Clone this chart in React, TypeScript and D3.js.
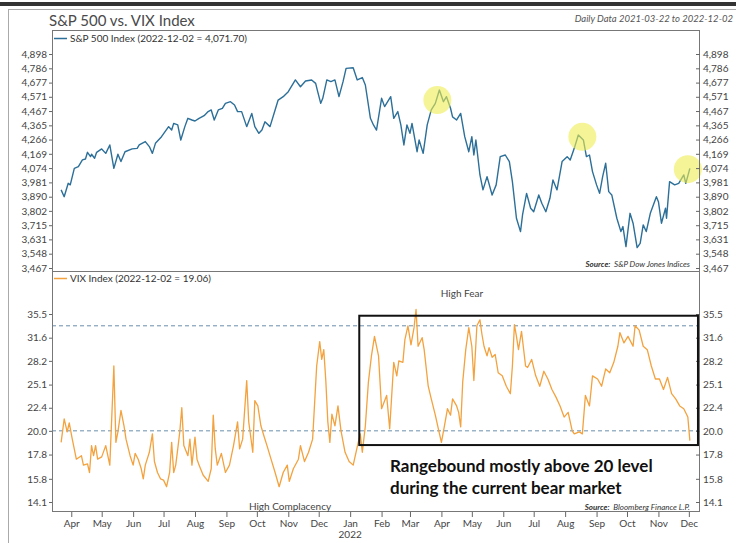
import { useEffect, useRef } from 'react'
import * as d3 from 'd3'

// S&P 500 daily closes
const spDates = [
  '2021-03-22', '2021-03-25', '2021-03-29', '2021-03-31', '2021-04-04', '2021-04-08', '2021-04-12', '2021-04-15',
  '2021-04-17', '2021-04-20', '2021-04-21', '2021-04-24', '2021-04-26', '2021-05-01', '2021-05-05', '2021-05-09',
  '2021-05-13', '2021-05-17', '2021-05-20', '2021-05-24', '2021-05-31', '2021-06-05', '2021-06-07', '2021-06-13',
  '2021-06-17', '2021-06-20', '2021-06-23', '2021-06-29', '2021-07-06', '2021-07-09', '2021-07-11', '2021-07-15',
  '2021-07-18', '2021-07-22', '2021-07-25', '2021-07-29', '2021-08-01', '2021-08-05', '2021-08-10', '2021-08-14',
  '2021-08-17', '2021-08-20', '2021-08-24', '2021-08-28', '2021-08-31', '2021-09-05', '2021-09-09', '2021-09-12',
  '2021-09-16', '2021-09-21', '2021-09-26', '2021-09-29', '2021-10-03', '2021-10-06', '2021-10-09', '2021-10-14',
  '2021-10-19', '2021-10-22', '2021-10-27', '2021-11-01', '2021-11-08', '2021-11-13', '2021-11-18', '2021-11-24',
  '2021-11-28', '2021-11-30', '2021-12-03', '2021-12-05', '2021-12-09', '2021-12-13', '2021-12-17', '2021-12-21',
  '2021-12-25', '2021-12-28', '2022-01-04', '2022-01-08', '2022-01-13', '2022-01-16', '2022-01-21', '2022-01-24',
  '2022-01-27', '2022-02-01', '2022-02-04', '2022-02-10', '2022-02-13', '2022-02-17', '2022-02-20', '2022-02-23',
  '2022-02-26', '2022-03-01', '2022-03-03', '2022-03-08', '2022-03-10', '2022-03-14', '2022-03-18', '2022-03-22',
  '2022-03-26', '2022-03-30', '2022-04-03', '2022-04-06', '2022-04-10', '2022-04-12', '2022-04-16', '2022-04-20',
  '2022-04-24', '2022-04-28', '2022-05-01', '2022-05-03', '2022-05-05', '2022-05-09', '2022-05-12', '2022-05-16',
  '2022-05-21', '2022-05-25', '2022-05-29', '2022-06-03', '2022-06-07', '2022-06-10', '2022-06-14', '2022-06-18',
  '2022-06-20', '2022-06-24', '2022-06-28', '2022-07-01', '2022-07-06', '2022-07-09', '2022-07-13', '2022-07-17',
  '2022-07-20', '2022-07-24', '2022-07-29', '2022-08-03', '2022-08-06', '2022-08-10', '2022-08-14', '2022-08-19',
  '2022-08-22', '2022-08-25', '2022-08-28', '2022-09-01', '2022-09-04', '2022-09-07', '2022-09-10', '2022-09-13',
  '2022-09-16', '2022-09-21', '2022-09-25', '2022-09-27', '2022-09-30', '2022-10-04', '2022-10-07', '2022-10-11',
  '2022-10-14', '2022-10-17', '2022-10-20', '2022-10-24', '2022-10-27', '2022-10-30', '2022-11-01', '2022-11-04',
  '2022-11-08', '2022-11-09', '2022-11-12', '2022-11-17', '2022-11-21', '2022-11-26', '2022-11-28', '2022-12-02',
]
const spValues = [
  3933, 3890, 3975, 3965, 4072, 4083, 4128, 4134,
  4179, 4150, 4166, 4139, 4179, 4202, 4172, 4229,
  4072, 4166, 4117, 4183, 4202, 4206, 4229, 4252,
  4218, 4172, 4240, 4286, 4356, 4332, 4379, 4368,
  4263, 4356, 4415, 4403, 4396, 4415, 4434, 4463,
  4475, 4403, 4475, 4487, 4523, 4535, 4511, 4463,
  4463, 4356, 4450, 4356, 4309, 4332, 4390, 4356,
  4475, 4547, 4572, 4609, 4697, 4646, 4689, 4697,
  4671, 4609, 4523, 4560, 4697, 4684, 4697, 4572,
  4684, 4786, 4790, 4697, 4715, 4659, 4415, 4368,
  4332, 4560, 4499, 4572, 4415, 4463, 4368, 4229,
  4368, 4309, 4379, 4183, 4263, 4172, 4368, 4475,
  4523, 4621, 4535, 4572, 4487, 4425, 4403, 4450,
  4286, 4183, 4286, 4161, 4263, 4029, 3933, 4018,
  3901, 3965, 4150, 4161, 4117, 3986, 3757, 3677,
  3777, 3911, 3818, 3797, 3901, 3849, 3797, 3880,
  3997, 3933, 4117, 4150, 4128, 4206, 4297, 4263,
  4150, 4161, 4051, 3965, 3911, 4018, 4106, 3922,
  3901, 3757, 3677, 3707, 3589, 3787, 3727, 3583,
  3608, 3717, 3677, 3787, 3838, 3890, 3859, 3727,
  3818, 3757, 3986, 3965, 3975, 4029, 3975, 4071.7,
]

// VIX closes
const vixDates = [
  '2021-03-22', '2021-03-25', '2021-03-28', '2021-03-30', '2021-04-02', '2021-04-06', '2021-04-11', '2021-04-13',
  '2021-04-17', '2021-04-19', '2021-04-21', '2021-04-23', '2021-04-25', '2021-04-27', '2021-05-01', '2021-05-05',
  '2021-05-09', '2021-05-13', '2021-05-15', '2021-05-17', '2021-05-20', '2021-05-23', '2021-05-25', '2021-05-29',
  '2021-06-01', '2021-06-03', '2021-06-06', '2021-06-09', '2021-06-11', '2021-06-13', '2021-06-17', '2021-06-20',
  '2021-06-22', '2021-06-25', '2021-06-28', '2021-07-01', '2021-07-04', '2021-07-07', '2021-07-09', '2021-07-11',
  '2021-07-13', '2021-07-15', '2021-07-17', '2021-07-19', '2021-07-21', '2021-07-25', '2021-07-27', '2021-07-29',
  '2021-08-01', '2021-08-03', '2021-08-05', '2021-08-09', '2021-08-14', '2021-08-17', '2021-08-19', '2021-08-21',
  '2021-08-23', '2021-08-27', '2021-08-31', '2021-09-04', '2021-09-08', '2021-09-12', '2021-09-14', '2021-09-17',
  '2021-09-21', '2021-09-23', '2021-09-27', '2021-09-29', '2021-10-02', '2021-10-05', '2021-10-08', '2021-10-11',
  '2021-10-15', '2021-10-19', '2021-10-23', '2021-10-27', '2021-10-31', '2021-11-02', '2021-11-06', '2021-11-11',
  '2021-11-13', '2021-11-17', '2021-11-21', '2021-11-25', '2021-11-29', '2021-12-02', '2021-12-04', '2021-12-06',
  '2021-12-08', '2021-12-10', '2021-12-12', '2021-12-14', '2021-12-17', '2021-12-20', '2021-12-23', '2021-12-27',
  '2021-12-31', '2022-01-04', '2022-01-09', '2022-01-11', '2022-01-13', '2022-01-16', '2022-01-19', '2022-01-22',
  '2022-01-25', '2022-01-29', '2022-02-01', '2022-02-06', '2022-02-09', '2022-02-13', '2022-02-16', '2022-02-18',
  '2022-02-22', '2022-02-24', '2022-02-27', '2022-03-02', '2022-03-05', '2022-03-07', '2022-03-09', '2022-03-13',
  '2022-03-15', '2022-03-19', '2022-03-22', '2022-03-26', '2022-03-29', '2022-04-01', '2022-04-04', '2022-04-07',
  '2022-04-10', '2022-04-12', '2022-04-16', '2022-04-18', '2022-04-20', '2022-04-22', '2022-04-25', '2022-04-28',
  '2022-05-01', '2022-05-03', '2022-05-06', '2022-05-09', '2022-05-11', '2022-05-13', '2022-05-16', '2022-05-18',
  '2022-05-21', '2022-05-24', '2022-05-27', '2022-05-31', '2022-06-04', '2022-06-08', '2022-06-10', '2022-06-12',
  '2022-06-14', '2022-06-16', '2022-06-19', '2022-06-23', '2022-06-25', '2022-06-29', '2022-07-03', '2022-07-07',
  '2022-07-11', '2022-07-15', '2022-07-19', '2022-07-23', '2022-07-27', '2022-07-31', '2022-08-04', '2022-08-08',
  '2022-08-10', '2022-08-15', '2022-08-18', '2022-08-21', '2022-08-25', '2022-08-28', '2022-09-02', '2022-09-06',
  '2022-09-10', '2022-09-14', '2022-09-18', '2022-09-22', '2022-09-24', '2022-09-28', '2022-10-02', '2022-10-07',
  '2022-10-09', '2022-10-13', '2022-10-17', '2022-10-21', '2022-10-25', '2022-10-29', '2022-11-02', '2022-11-06',
  '2022-11-10', '2022-11-14', '2022-11-18', '2022-11-22', '2022-11-26', '2022-11-30', '2022-12-02',
]
const vixValues = [
  18.9, 21.2, 19.9, 20.8, 19.2, 17.4, 17.7, 16.9,
  17.0, 16.3, 18.6, 17.7, 18.6, 17.4, 17.6, 18.6,
  16.9, 27.5, 18.9, 19.9, 22.1, 20.5, 19.2, 17.7,
  16.9, 17.9, 17.4, 16.6, 15.8, 16.9, 18.0, 19.7,
  17.2, 16.3, 15.8, 15.7, 15.2, 16.3, 18.9, 16.3,
  16.9, 18.3, 19.9, 22.4, 18.6, 17.7, 19.2, 16.9,
  19.4, 17.4, 16.9, 16.1, 15.6, 16.6, 21.6, 18.3,
  16.9, 17.9, 16.3, 16.9, 18.6, 20.9, 18.3, 19.2,
  25.6, 20.9, 18.0, 23.2, 22.6, 20.5, 19.5, 18.6,
  17.4, 16.3, 15.2, 16.3, 16.9, 15.6, 16.6, 17.4,
  18.6, 17.2, 18.0, 19.2, 27.5, 31.0, 28.4, 29.8,
  25.6, 20.9, 18.9, 21.7, 20.5, 22.6, 20.0, 18.0,
  17.2, 16.9, 18.9, 19.7, 18.0, 20.5, 25.4, 28.9,
  31.8, 28.9, 22.3, 23.8, 20.2, 28.0, 26.2, 28.2,
  28.0, 31.3, 33.5, 30.5, 33.2, 36.3, 30.3, 31.6,
  29.8, 24.9, 23.4, 21.6, 20.2, 18.9, 20.5, 22.3,
  21.6, 23.4, 22.6, 21.9, 20.4, 25.4, 29.8, 33.2,
  30.3, 25.6, 33.5, 34.5, 32.1, 30.3, 28.9, 30.1,
  28.7, 29.1, 26.6, 26.2, 24.9, 24.0, 27.5, 33.7,
  31.8, 29.8, 32.6, 27.5, 27.3, 28.4, 26.2, 24.9,
  26.8, 25.8, 24.5, 23.6, 22.6, 21.4, 21.9, 20.0,
  19.7, 19.9, 19.7, 23.8, 22.6, 26.2, 25.8, 24.9,
  27.1, 26.6, 28.0, 30.3, 32.4, 30.8, 31.8, 30.3,
  33.5, 32.8, 30.3, 29.8, 27.5, 25.8, 25.8, 24.5,
  26.0, 24.0, 23.4, 22.6, 22.3, 21.4, 19.06,
]

const spTicks = [3467, 3548, 3631, 3715, 3802, 3890, 3981, 4074, 4169, 4266, 4365, 4467, 4571, 4677, 4786, 4898]
const vixTicks = [14.1, 15.8, 17.8, 20.0, 22.4, 25.1, 28.2, 31.6, 35.5]
const vixLevels = [33.5, 20.0]

// highlighted S&P tops (yellow circles)
const highlightDates = ['2022-03-28', '2022-08-18', '2022-11-30']
const highlightValues = [4547, 4285, 4067]

// the "rangebound" box on the VIX panel
const boxDates = ['2022-01-10', '2022-12-10']
const boxValues = [18.65, 35.2]

export default function App() {
  const svgRef = useRef<SVGSVGElement>(null)

  useEffect(() => {
    if (!svgRef.current) return
    const W = 736
    const H = 543
    const svg = d3.select(svgRef.current)
    svg.selectAll('*').remove()
    svg.attr('width', W).attr('height', H)

    const font = 'Lato, sans-serif'
    const parse = d3.timeParse('%Y-%m-%d')
    const L = 52, R = 700, T = 30, MID = 271, B = 512

    const x = d3.scaleTime().domain([parse('2021-03-13')!, parse('2022-12-12')!]).range([L, R])
    const yS = d3.scaleLog().domain([3467, 4898]).range([268, 54])
    const yV = d3.scaleLog().domain([14.1, 35.5]).range([502, 314])

    const sp = spDates.map((d, i) => ({ date: parse(d)!, value: spValues[i] }))
    const vix = vixDates.map((d, i) => ({ date: parse(d)!, value: vixValues[i] }))

    svg.append('rect').attr('width', W).attr('height', H).attr('fill', '#fff')

    // page frame
    svg.append('rect').attr('x', 0).attr('y', 2).attr('width', W).attr('height', 4).attr('fill', '#333')
    svg.append('line').attr('x1', 8).attr('x2', W).attr('y1', 9.5).attr('y2', 9.5).attr('stroke', '#aaa')
    svg.append('line').attr('x1', 8.5).attr('x2', 8.5).attr('y1', 9.5).attr('y2', H).attr('stroke', '#aaa')

    // titles
    svg.append('text').attr('x', 49).attr('y', 26).attr('font-family', font).attr('font-size', 15)
      .attr('fill', '#4a4a4a').text('S&P 500 vs. VIX Index')
    svg.append('text').attr('x', 733).attr('y', 22).attr('text-anchor', 'end').attr('font-family', font)
      .attr('font-size', 9.5).attr('font-style', 'italic').attr('fill', '#555').text('Daily Data 2021-03-22 to 2022-12-02')

    const defs = svg.append('defs')
    defs.append('clipPath').attr('id', 'clip-top').append('rect')
      .attr('x', L).attr('y', T).attr('width', R - L).attr('height', MID - T)
    defs.append('clipPath').attr('id', 'clip-bot').append('rect')
      .attr('x', L).attr('y', MID).attr('width', R - L).attr('height', B - MID)

    // dashed VIX levels
    svg.append('g').selectAll('line').data(vixLevels).enter().append('line')
      .attr('x1', L).attr('x2', R).attr('y1', d => yV(d)).attr('y2', d => yV(d))
      .attr('stroke', '#6b8eac').attr('stroke-width', 1).attr('stroke-dasharray', '4,3')

    // lines
    svg.append('path').datum(sp).attr('clip-path', 'url(#clip-top)')
      .attr('fill', 'none').attr('stroke', '#2c6f98').attr('stroke-width', 1.4).attr('stroke-linejoin', 'round')
      .attr('d', d3.line<{ date: Date; value: number }>().x(d => x(d.date)).y(d => yS(d.value)))
    svg.append('path').datum(vix).attr('clip-path', 'url(#clip-bot)')
      .attr('fill', 'none').attr('stroke', '#f3a23e').attr('stroke-width', 1.3).attr('stroke-linejoin', 'round')
      .attr('d', d3.line<{ date: Date; value: number }>().x(d => x(d.date)).y(d => yV(d.value)))

    // highlight circles
    svg.append('g').selectAll('circle').data(highlightDates).enter().append('circle')
      .attr('cx', d => x(parse(d)!)).attr('cy', (_, i) => yS(highlightValues[i]))
      .attr('r', 14).attr('fill', '#eeec50').attr('opacity', 0.6)

    // plot frame
    const frame = svg.append('g').attr('fill', 'none').attr('stroke', '#777').attr('stroke-width', 1)
    frame.append('rect').attr('x', L + 0.5).attr('y', T + 0.5).attr('width', R - L - 1).attr('height', B - T - 1)
    frame.append('line').attr('x1', L).attr('x2', R).attr('y1', MID + 0.5).attr('y2', MID + 0.5)

    // axes
    const styleAxis = (ax: d3.Selection<SVGGElement, unknown, null, undefined>) => {
      ax.select('.domain').remove()
      ax.selectAll('.tick line').attr('stroke', '#666')
      ax.selectAll('.tick text').attr('fill', '#444').attr('font-size', '10px').attr('font-family', font)
    }
    svg.append('g').attr('transform', `translate(${L},0)`)
      .call(d3.axisLeft(yS).tickValues(spTicks).tickFormat(d => d3.format(',')(d as number)).tickSize(3).tickPadding(2))
      .call(styleAxis)
    svg.append('g').attr('transform', `translate(${R},0)`)
      .call(d3.axisRight(yS).tickValues(spTicks).tickFormat(d => d3.format(',')(d as number)).tickSizeInner(-4).tickSizeOuter(0).tickPadding(3))
      .call(styleAxis)
    svg.append('g').attr('transform', `translate(${L},0)`)
      .call(d3.axisLeft(yV).tickValues(vixTicks).tickFormat(d => (d as number).toFixed(1)).tickSize(3).tickPadding(2))
      .call(styleAxis)
    svg.append('g').attr('transform', `translate(${R},0)`)
      .call(d3.axisRight(yV).tickValues(vixTicks).tickFormat(d => (d as number).toFixed(1)).tickSizeInner(-4).tickSizeOuter(0).tickPadding(3))
      .call(styleAxis)

    const months = d3.timeMonth.range(parse('2021-04-01')!, parse('2022-12-02')!)
    svg.append('g').attr('transform', `translate(0,${B})`)
      .call(d3.axisBottom(x).tickValues(months).tickFormat(d => d3.timeFormat('%b')(d as Date)).tickSize(5).tickPadding(3))
      .call(styleAxis)
    svg.append('text').attr('x', x(parse('2022-01-01')!)).attr('y', 538).attr('text-anchor', 'middle')
      .attr('font-family', font).attr('font-size', 10).attr('fill', '#444').text('2022')

    // legends
    svg.append('line').attr('x1', L + 2).attr('x2', L + 15).attr('y1', 38.5).attr('y2', 38.5)
      .attr('stroke', '#2c6f98').attr('stroke-width', 1.5)
    svg.append('text').attr('x', L + 18).attr('y', 42).attr('font-family', font).attr('font-size', 10)
      .attr('fill', '#333').text('S&P 500 Index (2022-12-02 = 4,071.70)')
    svg.append('line').attr('x1', L + 2).attr('x2', L + 15).attr('y1', 278.5).attr('y2', 278.5)
      .attr('stroke', '#f3a23e').attr('stroke-width', 1.5)
    svg.append('text').attr('x', L + 18).attr('y', 282).attr('font-family', font).attr('font-size', 10)
      .attr('fill', '#333').text('VIX Index (2022-12-02 = 19.06)')

    // sources
    const source = (y: number, name: string) => {
      const t = svg.append('text').attr('x', 690).attr('y', y).attr('text-anchor', 'end')
        .attr('font-family', font).attr('font-size', 8).attr('font-style', 'italic').attr('fill', '#333')
      t.append('tspan').attr('font-weight', 'bold').text('Source:')
      t.append('tspan').text('\u00a0\u00a0' + name)
    }
    source(267, 'S&P Dow Jones Indices')
    source(510, 'Bloomberg Finance L.P.')

    svg.append('text').attr('x', 462).attr('y', 297).attr('text-anchor', 'middle').attr('font-family', font)
      .attr('font-size', 10).attr('fill', '#444').text('High Fear')
    svg.append('text').attr('x', 290).attr('y', 510).attr('text-anchor', 'middle').attr('font-family', font)
      .attr('font-size', 10).attr('fill', '#444').text('High Complacency')

    // rangebound box
    const bx0 = x(parse(boxDates[0])!), bx1 = x(parse(boxDates[1])!)
    const by0 = yV(boxValues[1]), by1 = yV(boxValues[0])
    svg.append('rect').attr('x', bx0).attr('y', by0).attr('width', bx1 - bx0).attr('height', by1 - by0)
      .attr('fill', 'none').attr('stroke', '#111').attr('stroke-width', 2)

    const note = svg.append('text').attr('font-family', font).attr('font-size', 17).attr('font-weight', 'bold').attr('fill', '#111')
    note.append('tspan').attr('x', 390).attr('y', 472).text('Rangebound mostly above 20 level')
    note.append('tspan').attr('x', 390).attr('y', 494).text('during the current bear market')
  }, [])

  return (
    <div style={{ position: 'absolute', left: 0, top: 0 }}>
      <svg ref={svgRef} />
    </div>
  )
}
